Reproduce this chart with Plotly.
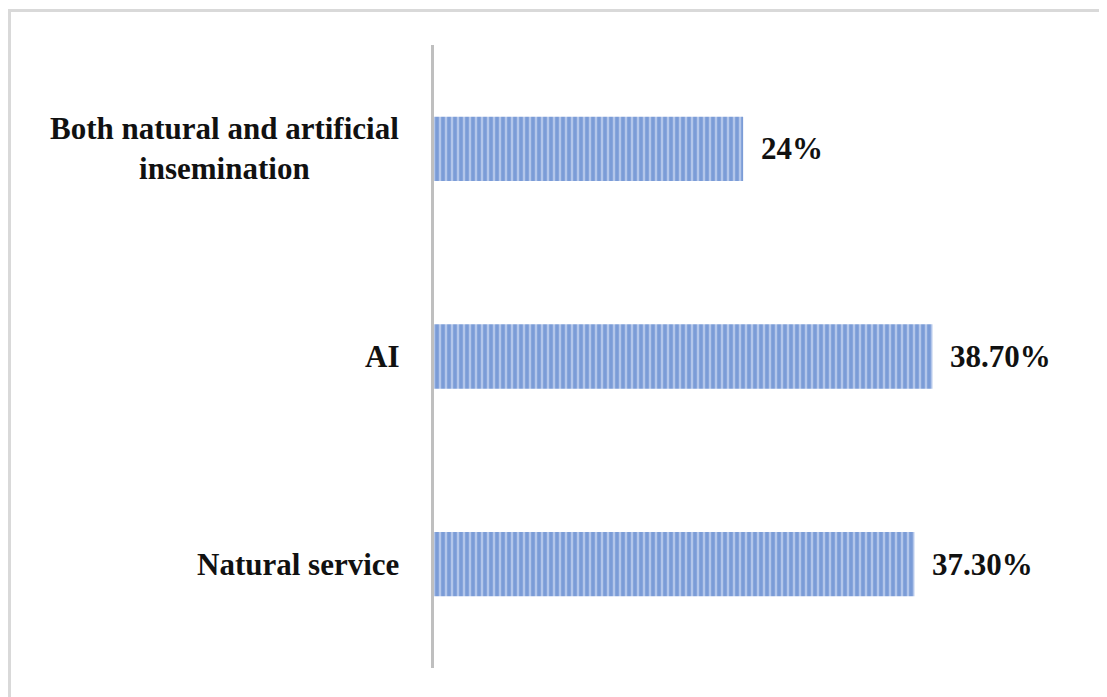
import plotly.graph_objects as go

categories = ["Natural service", "AI", "Both natural and artificial<br>insemination"]
values = [37.3, 38.7, 24.0]
value_labels = ["37.30%", "38.70%", "24%"]

OFF = 8  # default page body margin
W, H = 1107 - OFF, 697 - OFF
L, R, T, B = 434 - OFF, 29, 45 - OFF, 29
XMAX = 50

FONT = "Liberation Serif"
FS = 31

fig = go.Figure()
fig.add_trace(go.Bar(
    y=categories, x=values, orientation="h", width=0.31,
    marker=dict(color="#adc2e9", line=dict(width=0),
                pattern=dict(shape="|", fgcolor="#4472c4", bgcolor="#b3c6ea",
                             size=6, solidity=0.6, fillmode="overlay")),
    hoverinfo="skip",
))

annotations = []
for c, v, t in zip(categories, values, value_labels):
    annotations.append(dict(x=v, y=c, xref="x", yref="y", text="<b>%s</b>" % t,
                            showarrow=False, xanchor="left", yanchor="middle",
                            xshift=16, font=dict(family=FONT, size=FS, color="#111111")))
    annotations.append(dict(x=0, y=c, xref="paper", yref="y", text="<b>%s</b>" % c,
                            showarrow=False, xanchor="right", yanchor="middle",
                            align="center", xshift=-33,
                            font=dict(family=FONT, size=FS, color="#111111")))

pw = W - L - R
ph = H - T - B
def px2paper_x(px):
    return (px - OFF - L) / pw
def px2paper_y(py):
    return 1 - (py - OFF - T) / ph

fig.update_layout(
    width=W, height=H,
    margin=dict(l=L, r=R, t=T, b=B, pad=0),
    paper_bgcolor="white", plot_bgcolor="white",
    showlegend=False,
    xaxis=dict(range=[0, XMAX], visible=False, fixedrange=True),
    yaxis=dict(categoryorder="array", categoryarray=categories,
               showticklabels=False, showline=True, linecolor="#bfbfbf", linewidth=3,
               showgrid=False, zeroline=False, ticks="", fixedrange=True),
    annotations=annotations,
    shapes=[dict(type="rect", xref="paper", yref="paper",
                 x0=px2paper_x(9.5), x1=px2paper_x(1130),
                 y0=px2paper_y(720), y1=px2paper_y(10.5),
                 line=dict(color="#d9d9d9", width=3), layer="below")],
)

fig.write_html("out.html", config={"displayModeBar": False})
